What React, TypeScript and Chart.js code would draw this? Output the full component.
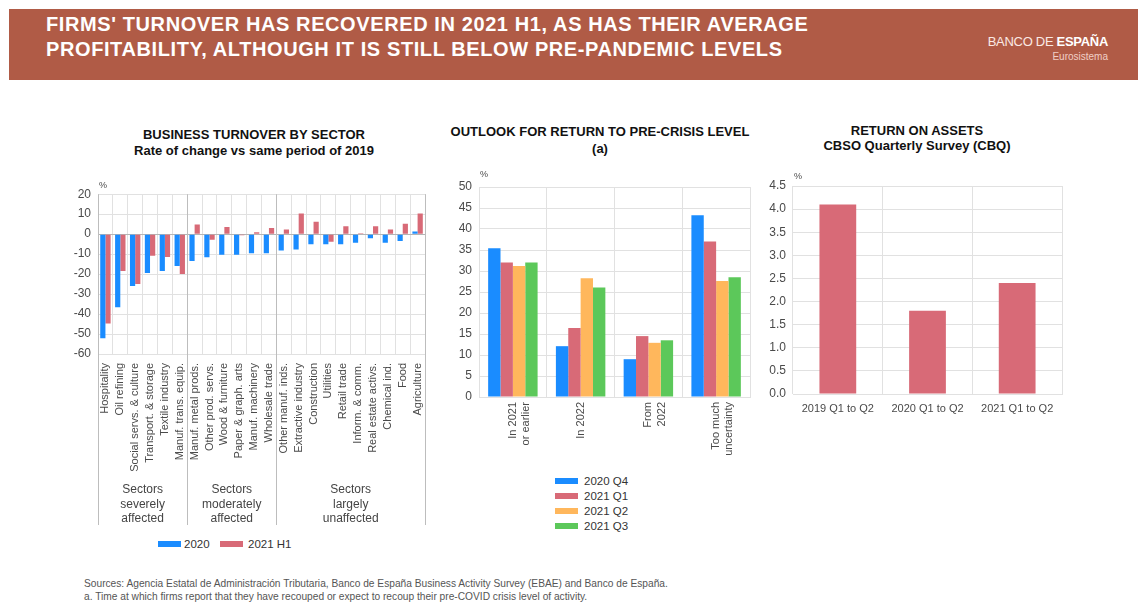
import React, { useEffect, useRef } from "react";
import { Chart, registerables } from "chart.js";

Chart.register(...registerables);

// ---- Business turnover by sector (rate of change vs same period of 2019, %) ----
const sectorLabels = [
  "Hospitality",
  "Oil refining",
  "Social servs. & culture",
  "Transport. & storage",
  "Textile industry",
  "Manuf. trans. equip.",
  "Manuf. metal prods.",
  "Other prod. servs.",
  "Wood & furniture",
  "Paper & graph. arts",
  "Manuf. machinery",
  "Wholesale trade",
  "Other manuf. inds.",
  "Extractive industry",
  "Construction",
  "Utilities",
  "Retail trade",
  "Inform. & comm.",
  "Real estate activs.",
  "Chemical ind.",
  "Food",
  "Agriculture",
];
const turnover2020 = [
  -52.1, -36.6, -25.9, -19.5, -18.4, -15.9, -13.4, -11.6, -10.3, -10.3, -9.5,
  -9.5, -8.2, -7.7, -5.1, -5.1, -5.1, -4.3, -2.1, -4.3, -3.4, 1.3,
];
const turnover2021H1 = [
  -44.7, -18.5, -24.9, -10.8, -11.5, -20.0, 4.8, -2.8, 3.6, -0.6, 1.0, 3.1, 2.3,
  10.3, 6.2, -3.8, 3.9, 0.5, 3.9, 2.3, 5.2, 10.3,
];
const sectorGroupNames = [
  ["Sectors", "severely", "affected"],
  ["Sectors", "moderately", "affected"],
  ["Sectors", "largely", "unaffected"],
];
const sectorGroupSizes = [6, 6, 10];

// ---- Outlook for return to pre-crisis level (% of firms) ----
const outlookLabels = [
  ["In 2021", "or earlier"],
  "In 2022",
  ["From", "2022"],
  ["Too much", "uncertainty"],
];
const outlook2020Q4 = [35.4, 12.1, 9.0, 43.3];
const outlook2021Q1 = [32.0, 16.4, 14.5, 37.0];
const outlook2021Q2 = [31.2, 28.3, 12.9, 27.6];
const outlook2021Q3 = [32.0, 26.1, 13.5, 28.5];

// ---- Return on assets (CBQ, %) ----
const roaLabels = ["2019 Q1 to Q2", "2020 Q1 to Q2", "2021 Q1 to Q2"];
const roaValues = [4.1, 1.8, 2.4];

// ---- Palette and type ----
const BLUE = "#1a8cff";
const RED = "#d86a77";
const ORANGE = "#ffb75c";
const GREEN = "#5cc85a";
const GRID = "#e1e1e1";
const TICK = "#4a4a4a";
const FONT = "'Liberation Sans', Arial, Helvetica, sans-serif";

// Small "%" unit marker above the value axis
const percentPlugin = {
  id: "percentUnit",
  afterDraw(chart: any, _args: any, opts: any) {
    const { ctx, chartArea } = chart;
    ctx.save();
    ctx.font = `9px ${FONT}`;
    ctx.fillStyle = TICK;
    ctx.textAlign = "left";
    ctx.textBaseline = "middle";
    ctx.fillText("%", chartArea.left + 1, chartArea.top - (opts.gap ?? 9));
    ctx.restore();
  },
};

// Group separators and captions below the sector axis
const sectorGroupPlugin = {
  id: "sectorGroups",
  afterDraw(chart: any) {
    const { ctx, chartArea } = chart;
    const xs = chart.scales.x;
    const n = sectorLabels.length;
    const bounds = [0];
    sectorGroupSizes.forEach((s) => bounds.push(bounds[bounds.length - 1] + s));
    const edge = (b: number) => {
      if (b <= 0) return chartArea.left;
      if (b >= n) return chartArea.right;
      return (xs.getPixelForValue(b - 1) + xs.getPixelForValue(b)) / 2;
    };
    ctx.save();
    ctx.strokeStyle = "#bdbdbd";
    ctx.lineWidth = 1;
    bounds.forEach((b) => {
      const x = Math.round(edge(b)) + 0.5;
      ctx.beginPath();
      ctx.moveTo(x, chartArea.top);
      ctx.lineTo(x, chartArea.bottom + 171);
      ctx.stroke();
    });
    ctx.font = `12px ${FONT}`;
    ctx.fillStyle = "#444";
    ctx.textAlign = "center";
    ctx.textBaseline = "middle";
    sectorGroupNames.forEach((lines, i) => {
      const cx = (edge(bounds[i]) + edge(bounds[i + 1])) / 2;
      lines.forEach((line, j) => {
        ctx.fillText(line, cx, chartArea.bottom + 136 + j * 14.5);
      });
    });
    ctx.restore();
  },
};

function valueAxis(
  min: number,
  max: number,
  step: number,
  width: number,
  decimals: number,
  zeroColor?: string
) {
  return {
    min,
    max,
    afterFit: (s: any) => {
      s.width = width;
    },
    ticks: {
      stepSize: step,
      padding: 7,
      color: TICK,
      font: { family: FONT, size: 12 },
      callback: (v: any) => Number(v).toFixed(decimals),
    },
    grid: {
      color: (c: any) =>
        zeroColor && c.tick && c.tick.value === 0 ? zeroColor : GRID,
      drawTicks: false,
    },
    border: { display: false },
  };
}

function categoryAxis(height: number, rotation: number, padding: number) {
  return {
    afterFit: (s: any) => {
      s.height = height;
    },
    ticks: {
      autoSkip: false,
      minRotation: rotation,
      maxRotation: rotation,
      padding,
      color: TICK,
      font: { family: FONT, size: 11 },
    },
    grid: { color: GRID, drawTicks: false, offset: true },
    border: { color: GRID },
  };
}

function ChartBox(props: {
  left: number;
  top: number;
  width: number;
  height: number;
  config: any;
}) {
  const ref = useRef<HTMLCanvasElement>(null);
  useEffect(() => {
    const chart = new Chart(ref.current as HTMLCanvasElement, props.config);
    return () => chart.destroy();
  }, []);
  return (
    <canvas
      ref={ref}
      width={props.width}
      height={props.height}
      style={{
        position: "absolute",
        left: props.left,
        top: props.top,
        width: props.width,
        height: props.height,
      }}
    />
  );
}

const baseOptions = {
  responsive: false,
  animation: false,
  devicePixelRatio: 1,
  plugins: {
    legend: { display: false },
    tooltip: { enabled: false },
  },
};

const sectorConfig = {
  type: "bar",
  data: {
    labels: sectorLabels,
    datasets: [
      { label: "2020", data: turnover2020, backgroundColor: BLUE },
      { label: "2021 H1", data: turnover2021H1, backgroundColor: RED },
    ],
  },
  options: {
    ...baseOptions,
    categoryPercentage: 0.7,
    barPercentage: 1,
    layout: { padding: { top: 10, right: 9, left: 0, bottom: 0 } },
    plugins: { ...baseOptions.plugins, percentUnit: { gap: 9 } },
    scales: {
      x: categoryAxis(178, 90, 9),
      y: valueAxis(-60, 20, 10, 58, 0, "#b5b5b5"),
    },
  },
  plugins: [percentPlugin, sectorGroupPlugin],
};

const outlookConfig = {
  type: "bar",
  data: {
    labels: outlookLabels,
    datasets: [
      { label: "2020 Q4", data: outlook2020Q4, backgroundColor: BLUE },
      { label: "2021 Q1", data: outlook2021Q1, backgroundColor: RED },
      { label: "2021 Q2", data: outlook2021Q2, backgroundColor: ORANGE },
      { label: "2021 Q3", data: outlook2021Q3, backgroundColor: GREEN },
    ],
  },
  options: {
    ...baseOptions,
    categoryPercentage: 0.73,
    barPercentage: 1,
    layout: { padding: { top: 17, right: 10, left: 0, bottom: 0 } },
    plugins: { ...baseOptions.plugins, percentUnit: { gap: 12 } },
    scales: {
      x: categoryAxis(73, 90, 5),
      y: valueAxis(0, 50, 5, 39, 0),
    },
  },
  plugins: [percentPlugin],
};

const roaConfig = {
  type: "bar",
  data: {
    labels: roaLabels,
    datasets: [{ label: "ROA", data: roaValues, backgroundColor: RED }],
  },
  options: {
    ...baseOptions,
    categoryPercentage: 0.41,
    barPercentage: 1,
    layout: { padding: { top: 16, right: 18, left: 0, bottom: 0 } },
    plugins: { ...baseOptions.plugins, percentUnit: { gap: 9 } },
    scales: {
      x: categoryAxis(36, 0, 8),
      y: valueAxis(0, 4.5, 0.5, 33, 1),
    },
  },
  plugins: [percentPlugin],
};

function LegendItem(props: {
  left: number;
  top: number;
  color: string;
  text: string;
  gap: number;
}) {
  return (
    <div
      style={{
        position: "absolute",
        left: props.left,
        top: props.top,
        display: "flex",
        alignItems: "center",
        height: 14,
        font: `11.5px ${FONT}`,
        color: "#333",
        whiteSpace: "nowrap",
      }}
    >
      <span
        style={{
          display: "inline-block",
          width: 23,
          height: 6,
          background: props.color,
          marginRight: props.gap,
        }}
      />
      {props.text}
    </div>
  );
}

function Title(props: { cx: number; top: number; lh: number; lines: string[] }) {
  return (
    <div
      style={{
        position: "absolute",
        left: props.cx - 200,
        width: 400,
        top: props.top,
        textAlign: "center",
        font: `bold 13px ${FONT}`,
        lineHeight: `${props.lh}px`,
        color: "#111",
      }}
    >
      {props.lines.map((l, i) => (
        <div key={i}>{l}</div>
      ))}
    </div>
  );
}

export default function App() {
  return (
    <div
      style={{
        position: "fixed",
        left: 0,
        top: 0,
        width: 1138,
        height: 603,
        background: "#fff",
        overflow: "hidden",
        fontFamily: FONT,
      }}
    >
      {/* Banner */}
      <div
        style={{
          position: "absolute",
          left: 9,
          top: 9,
          width: 1129,
          height: 71,
          background: "#b05b46",
        }}
      />
      <div
        style={{
          position: "absolute",
          left: 46,
          top: 12,
          font: `bold 20px ${FONT}`,
          letterSpacing: 0.6,
          lineHeight: "25px",
          color: "#fff",
          whiteSpace: "nowrap",
        }}
      >
        <div>FIRMS' TURNOVER HAS RECOVERED IN 2021 H1, AS HAS THEIR AVERAGE</div>
        <div>PROFITABILITY, ALTHOUGH IT IS STILL BELOW PRE-PANDEMIC LEVELS</div>
      </div>
      <div
        style={{
          position: "absolute",
          right: 30,
          top: 34,
          textAlign: "right",
          color: "#fbe9e4",
          whiteSpace: "nowrap",
        }}
      >
        <div style={{ font: `13px ${FONT}`, lineHeight: "16px", letterSpacing: -0.3 }}>
          BANCO DE <span style={{ fontWeight: "bold", color: "#fff" }}>ESPAÑA</span>
        </div>
        <div style={{ font: `10px ${FONT}`, lineHeight: "14px", color: "#f0cfc6" }}>
          Eurosistema
        </div>
      </div>

      {/* Panel titles */}
      <Title
        cx={254}
        top={127}
        lh={16}
        lines={["BUSINESS TURNOVER BY SECTOR", "Rate of change vs same period of 2019"]}
      />
      <Title cx={600} top={123} lh={17} lines={["OUTLOOK FOR RETURN TO PRE-CRISIS LEVEL", "(a)"]} />
      <Title cx={917} top={123} lh={15} lines={["RETURN ON ASSETS", "CBSO Quarterly Survey (CBQ)"]} />

      {/* Charts */}
      <ChartBox left={40} top={180} width={400} height={352} config={sectorConfig} />
      <ChartBox left={440} top={170} width={320} height={300} config={outlookConfig} />
      <ChartBox left={760} top={170} width={320} height={260} config={roaConfig} />

      {/* Legends */}
      <LegendItem left={158} top={537} color={BLUE} text="2020" gap={3} />
      <LegendItem left={220} top={537} color={RED} text="2021 H1" gap={5} />
      <LegendItem left={555} top={474} color={BLUE} text="2020 Q4" gap={6} />
      <LegendItem left={555} top={489} color={RED} text="2021 Q1" gap={6} />
      <LegendItem left={555} top={504} color={ORANGE} text="2021 Q2" gap={6} />
      <LegendItem left={555} top={519} color={GREEN} text="2021 Q3" gap={6} />

      {/* Notes */}
      <div
        style={{
          position: "absolute",
          left: 84,
          top: 577,
          font: `10.2px ${FONT}`,
          lineHeight: "13px",
          color: "#555",
          whiteSpace: "nowrap",
        }}
      >
        <div>
          Sources: Agencia Estatal de Administración Tributaria, Banco de España Business Activity Survey (EBAE) and Banco de España.
        </div>
        <div>
          a. Time at which firms report that they have recouped or expect to recoup their pre-COVID crisis level of activity.
        </div>
      </div>
    </div>
  );
}
